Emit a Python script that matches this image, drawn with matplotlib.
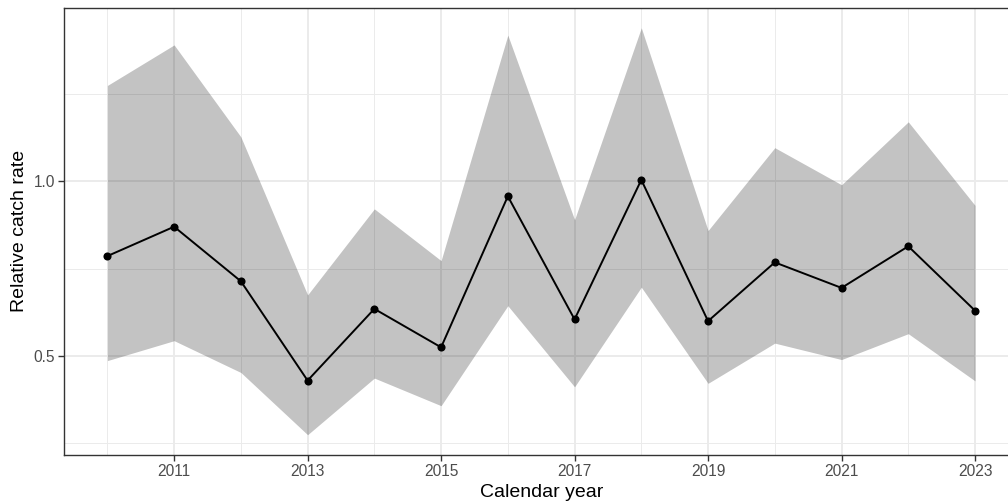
import numpy as np
import matplotlib
matplotlib.use("Agg")
import matplotlib.pyplot as plt

plt.rcParams['font.family'] = ['Liberation Sans', 'DejaVu Sans']

# values
years = [2010, 2011, 2012, 2013, 2014, 2015, 2016, 2017, 2018, 2019, 2020, 2021, 2022, 2023]
rate = [0.786, 0.870, 0.714, 0.430, 0.635, 0.525, 0.957, 0.605, 1.004, 0.600, 0.768, 0.695, 0.814, 0.630]
upper = [1.274, 1.390, 1.127, 0.675, 0.921, 0.773, 1.418, 0.890, 1.439, 0.859, 1.096, 0.990, 1.170, 0.931]
lower = [0.487, 0.544, 0.453, 0.275, 0.437, 0.358, 0.644, 0.412, 0.697, 0.422, 0.537, 0.490, 0.564, 0.429]

x_ticks = [2011, 2013, 2015, 2017, 2019, 2021, 2023]
x_minor = [2010, 2012, 2014, 2016, 2018, 2020, 2022]
y_ticks = [0.5, 1.0]
y_minor = [0.25, 0.75, 1.25]

W, H = 1008, 501
fig = plt.figure(figsize=(W / 100, H / 100), dpi=100)
# panel runs off the right edge of the picture, as in the reference
left, right, top, bottom = 64.0, 1018.4, 7.5, 455.0
ax = fig.add_axes([left / W, 1 - bottom / H, (right - left) / W, (bottom - top) / H])

ax.set_xlim(2009.35, 2023.65)
ax.set_ylim(0.217, 1.497)

# grid (theme_bw style)
for v in x_minor:
    ax.axvline(v, color='#ebebeb', lw=0.7, zorder=0)
for v in y_minor:
    ax.axhline(v, color='#ebebeb', lw=0.7, zorder=0)
for v in x_ticks:
    ax.axvline(v, color='#ebebeb', lw=1.4, zorder=0)
for v in y_ticks:
    ax.axhline(v, color='#ebebeb', lw=1.4, zorder=0)

ax.fill_between(years, lower, upper, color='black', alpha=0.235, lw=0, zorder=1)
ax.plot(years, rate, color='black', lw=1.4, zorder=2)
ax.scatter(years, rate, color='black', s=34, zorder=3, linewidths=0)

ax.set_xticks(x_ticks)
ax.set_yticks(y_ticks)
ax.set_yticklabels(['0.5', '1.0'])
ax.tick_params(axis='both', colors='#333333', labelcolor='#4d4d4d', labelsize=11.2,
               length=4, width=1.0, pad=2.5)

for s in ax.spines.values():
    s.set_color('#333333')
    s.set_linewidth(1.0)

ax.set_xlabel('Calendar year', fontsize=14, labelpad=3.5)
ax.set_ylabel('Relative catch rate', fontsize=14, labelpad=4)

fig.savefig('out.png', dpi=100)
